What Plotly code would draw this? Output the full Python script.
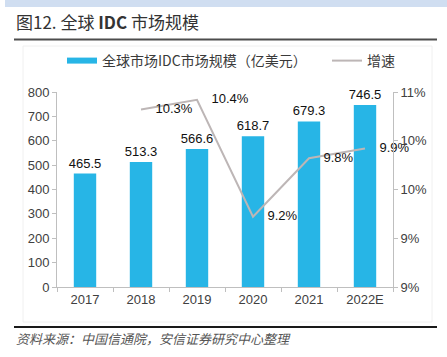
import plotly.graph_objects as go

years = ["2017", "2018", "2019", "2020", "2021", "2022E"]
market = [465.5, 513.3, 566.6, 618.7, 679.3, 746.5]
growth_years = ["2018", "2019", "2020", "2021", "2022E"]
growth = [10.32, 10.42, 9.22, 9.82, 9.92]
growth_labels = ["10.3%", "10.4%", "9.2%", "9.8%", "9.9%"]
left_ticks = [0, 100, 200, 300, 400, 500, 600, 700, 800]
right_tickvals = [8.5, 9.0, 9.5, 10.0, 10.5]
right_ticktext = ["9%", "9%", "10%", "10%", "11%"]

FONT = "Liberation Sans, Arial, Noto Sans CJK SC, sans-serif"
CJK = "Noto Sans CJK SC, sans-serif"
BLUE = "#27B5E6"
GRAY = "#BDB6B6"
NBSP = "\u00a0" * 4

fig = go.Figure()
fig.add_trace(go.Bar(
    x=years, y=market, name="全球市场IDC市场规模（亿美元）",
    marker=dict(color=BLUE, line=dict(width=0)),
    text=[f"{v:.1f}" for v in market], textposition="outside",
    constraintext="none",
    textfont=dict(size=13, color="#111111", family=FONT),
    cliponaxis=False, showlegend=False,
))
# legend swatch for the bars (wide flat bar like the original legend key)
fig.add_trace(go.Scatter(
    x=[None], y=[None], mode="lines", name="全球市场IDC市场规模（亿美元）",
    line=dict(color=BLUE, width=6), hoverinfo="skip", legend="legend",
))
fig.add_trace(go.Scatter(
    x=growth_years, y=growth, name="增速", yaxis="y2",
    mode="lines+text", line=dict(color=GRAY, width=2),
    text=[NBSP + t for t in growth_labels], textposition="middle right",
    textfont=dict(size=13, color="#111111", family=FONT),
    cliponaxis=False, legend="legend2",
))

axis_common = dict(
    showgrid=False, zeroline=False, showline=True, linecolor="#BFBFBF",
    linewidth=1, ticks="outside", ticklen=4, tickcolor="#BFBFBF",
    tickfont=dict(size=13, color="#404040", family=FONT),
)

W, H = 447, 357
L, R, T, B = 57, 54, 92, 70
PW, PH = W - L - R, H - T - B


def px(x):
    return (x - L) / PW


def py(y):
    return (H - B - y) / PH


legend_common = dict(orientation="h", xanchor="left", y=py(61), yanchor="middle",
                     font=dict(size=14, color="#3A3A3A", family=CJK),
                     itemwidth=30, bgcolor="rgba(0,0,0,0)")

fig.update_layout(
    width=W, height=H,
    margin=dict(l=L, r=R, t=T, b=B, autoexpand=False),
    paper_bgcolor="white", plot_bgcolor="white",
    bargap=0.6,
    showlegend=True,
    legend=dict(**legend_common, x=px(62)),
    legend2=dict(**legend_common, x=px(327)),
    xaxis=dict(**axis_common, tickson="boundaries"),
    yaxis=dict(**axis_common, range=[0, 800], tickvals=left_ticks),
    yaxis2=dict(**axis_common, overlaying="y", side="right", range=[8.5, 10.5],
                tickvals=right_tickvals, ticktext=right_ticktext),
    font=dict(family=FONT),
)

shapes = [
    dict(type="rect", xref="paper", yref="paper", x0=px(5), x1=px(447),
         y0=py(0), y1=py(7), fillcolor="#D0DEF1", line=dict(width=0), layer="below"),
    dict(type="line", xref="paper", yref="paper", x0=px(14), x1=px(437),
         y0=py(39.5), y1=py(39.5), line=dict(color="#4D4D4D", width=2)),
    dict(type="line", xref="paper", yref="paper", x0=px(14), x1=px(437),
         y0=py(327), y1=py(327), line=dict(color="#1A1A1A", width=2)),
    dict(type="rect", xref="paper", yref="paper", x0=px(23), x1=px(432),
         y0=py(322), y1=py(46), line=dict(color="#F0F0F0", width=1), layer="below"),
]
fig.update_layout(shapes=shapes)

fig.add_annotation(
    xref="paper", yref="paper", x=px(14), y=py(22), xanchor="left", yanchor="middle",
    text="图12. 全球 <b>IDC</b> 市场规模", showarrow=False,
    font=dict(size=17, color="#333333", family=CJK),
)
fig.add_annotation(
    xref="paper", yref="paper", x=px(14), y=py(338), xanchor="left", yanchor="middle",
    text="<i>资料来源：中国信通院，安信证券研究中心整理</i>", showarrow=False,
    font=dict(size=13, color="#555555", family=CJK),
)

fig.write_html(
    "out.html",
    config={"displayModeBar": False},
    post_script="document.body.style.margin='0';document.body.style.overflow='hidden';",
)
